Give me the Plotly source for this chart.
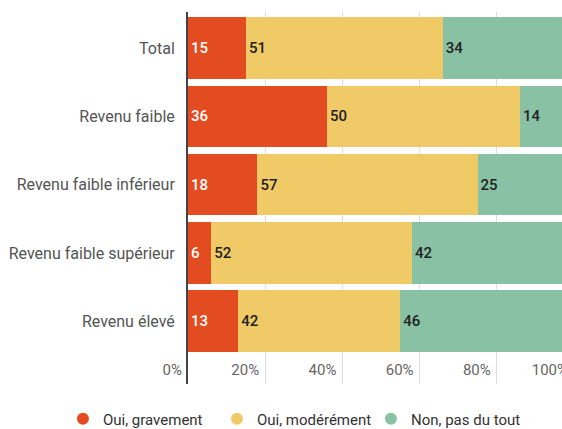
import plotly.graph_objects as go

# Data
categories = ["Total", "Revenu faible", "Revenu faible inférieur",
              "Revenu faible supérieur", "Revenu élevé"]
series_names = ["Oui, gravement", "Oui, modérément", "Non, pas du tout"]
oui_gravement = [15, 36, 18, 6, 13]
oui_moderement = [51, 50, 57, 52, 42]
non_pas_du_tout = [34, 14, 25, 42, 46]
x_ticks = [0, 20, 40, 60, 80, 100]
x_tick_labels = ["0%", "20%", "40%", "60%", "80%", "100%"]

colors = ["#E34B20", "#F0CA66", "#89C1A4"]
text_colors = ["white", "#222222", "#222222"]

fig = go.Figure()

for name, vals, col, tcol in zip(series_names,
                                 [oui_gravement, oui_moderement, non_pas_du_tout],
                                 colors, text_colors):
    fig.add_trace(
        go.Bar(
            y=categories,
            x=vals,
            orientation="h",
            name=name,
            marker=dict(color=col, line=dict(width=0)),
            text=vals,
            textposition="inside",
            insidetextanchor="start",
            textangle=0,
            textfont=dict(family="Roboto", size=15, color=tcol, weight=500),
            showlegend=False,
        )
    )
    # Legend entry with a round marker
    fig.add_trace(
        go.Scatter(
            x=[None], y=[None], mode="markers", name=name,
            marker=dict(color=col, size=16, symbol="circle"),
        )
    )

fig.update_layout(
    barmode="stack",
    bargap=0.1,
    width=590,
    height=429,
    margin=dict(l=188, r=16, t=12, b=45, autoexpand=False),
    paper_bgcolor="white",
    plot_bgcolor="white",
    font=dict(family="Roboto", size=15, color="#555555"),
    uniformtext=dict(minsize=8, mode="show"),
    legend=dict(
        orientation="h",
        traceorder="normal",
        x=-0.324, xanchor="left",
        y=-0.05, yanchor="top",
        font=dict(size=15, color="#333333"),
        itemsizing="constant",
        entrywidth=109,
        entrywidthmode="pixels",
    ),
)

fig.update_xaxes(
    range=[0, 100],
    tickvals=x_ticks,
    ticktext=x_tick_labels,
    ticklabelposition="inside left",
    ticklabeloverflow="allow",
    ticklabelshift=-6,
    showgrid=True,
    gridcolor="#DDDDDD",
    zeroline=False,
    showline=False,
    tickfont=dict(size=15, color="#666666"),
)

fig.update_yaxes(
    categoryorder="array",
    categoryarray=categories,
    range=[4.92, -0.53],
    showline=True,
    linecolor="#444444",
    linewidth=2,
    ticks="",
    ticklabelstandoff=8,
    tickfont=dict(size=16, color="#555555"),
)

# the chart is wider than the window: drop the page margin and crop at the edge
fig.write_html(
    "out.html",
    config={"displayModeBar": False},
    post_script="document.body.style.margin='0';document.body.style.overflow='hidden';",
)
